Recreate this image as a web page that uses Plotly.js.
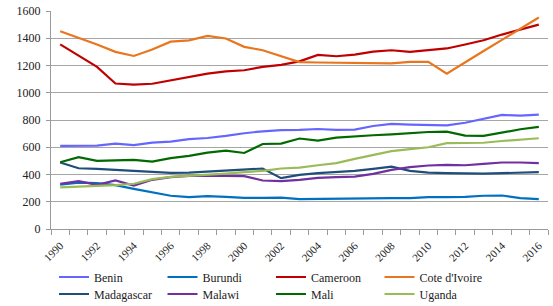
<!DOCTYPE html>
<html>
<head>
<meta charset="utf-8">
<script src="https://cdn.plot.ly/plotly-3.0.1.min.js"></script>
<style>html,body{margin:0;padding:0;background:#fff;}#chart{width:553px;height:306px;}</style>
</head>
<body>
<div id="chart"></div>
<script>
var years = [1990,1991,1992,1993,1994,1995,1996,1997,1998,1999,2000,2001,2002,2003,2004,2005,2006,2007,2008,2009,2010,2011,2012,2013,2014,2015,2016];
var benin = [610,612,612,627,615,634,641,659,668,683,703,717,725,727,734,727,729,756,771,766,761,761,780,810,837,832,839];
var burundi = [325,340,337,322,295,271,244,234,241,236,229,229,231,220,222,220,222,224,226,226,234,234,236,244,246,226,220];
var cameroon = [1355,1270,1190,1068,1060,1066,1090,1115,1140,1157,1165,1190,1205,1230,1278,1268,1280,1302,1312,1300,1312,1325,1354,1385,1427,1466,1500];
var coteDIvoire = [1451,1405,1354,1300,1270,1317,1375,1385,1417,1398,1337,1312,1270,1225,1222,1220,1215,1212,1215,1227,1227,1140,1225,1306,1388,1470,1552];
var madagascar = [488,446,441,436,427,419,412,414,422,427,434,444,373,397,410,417,427,441,458,427,414,410,407,407,410,412,417];
var malawi = [332,351,324,356,319,361,381,390,392,392,388,356,351,360,375,381,385,405,434,454,466,471,468,478,488,488,483];
var mali = [490,527,500,502,507,495,520,537,561,575,558,624,627,664,649,671,681,688,695,705,712,714,685,683,710,732,749];
var uganda = [305,310,312,322,332,366,383,390,397,407,417,427,444,451,468,483,515,544,571,586,600,630,630,633,646,656,666];
var tickYears = [1990,1992,1994,1996,1998,2000,2002,2004,2006,2008,2010,2012,2014,2016];
var tickLabels = tickYears.map(String);

var FONT = '"Liberation Serif", "Times New Roman", "DejaVu Serif", serif';
function tr(name, y, color, lg) {
  return {x: years, y: y, name: name, type: 'scatter', mode: 'lines',
          line: {color: color, width: 2.2}, legend: lg, hoverinfo: 'x+y+name'};
}
var data = [
  tr('Benin', benin, '#6666FF', 'legend'),
  tr('Burundi', burundi, '#0070C0', 'legend'),
  tr('Cameroon', cameroon, '#C00000', 'legend'),
  tr("Cote d'Ivoire", coteDIvoire, '#E8761E', 'legend'),
  tr('Madagascar', madagascar, '#1F4E79', 'legend2'),
  tr('Malawi', malawi, '#7030A0', 'legend2'),
  tr('Mali', mali, '#006A00', 'legend2'),
  tr('Uganda', uganda, '#9BBB59', 'legend2')
];
var legendBase = {orientation: 'h', xref: 'container', yref: 'container', x: 54/553,
  xanchor: 'left', yanchor: 'middle', entrywidth: 63.5, bgcolor: 'rgba(0,0,0,0)',
  font: {family: FONT, size: 12, color: '#222'}, itemclick: false, itemdoubleclick: false};
var layout = {
  width: 553, height: 306,
  margin: {l: 51, r: 5, t: 11, b: 77},
  paper_bgcolor: '#fff', plot_bgcolor: '#fff',
  font: {family: FONT, size: 11, color: '#222'},
  showlegend: true,
  legend: Object.assign({}, legendBase, {y: 1 - 277/306}),
  legend2: Object.assign({}, legendBase, {y: 1 - 294/306}),
  xaxis: {
    range: [1989.5, 2016.5], tickmode: 'array', tickvals: tickYears, ticktext: tickLabels,
    tickangle: -45, ticks: '', ticklabelstandoff: 5, showgrid: false, zeroline: false,
    showline: true, linecolor: '#9a9a9a', linewidth: 1,
    tickfont: {family: FONT, size: 11, color: '#222'},
    minor: {ticks: 'outside', ticklen: 5, tickcolor: '#9a9a9a', tick0: 1989.5, dtick: 1, showgrid: false}
  },
  yaxis: {
    range: [0, 1600], tickmode: 'linear', tick0: 0, dtick: 200,
    ticks: 'outside', ticklen: 4, tickcolor: '#9a9a9a', ticklabelstandoff: 3,
    showgrid: true, gridcolor: '#a6a6a6', gridwidth: 1, zeroline: false,
    showline: true, linecolor: '#9a9a9a', linewidth: 1,
    tickfont: {family: FONT, size: 12, color: '#222'}
  }
};
Plotly.newPlot('chart', data, layout, {displayModeBar: false, staticPlot: true});
</script>
</body>
</html>
